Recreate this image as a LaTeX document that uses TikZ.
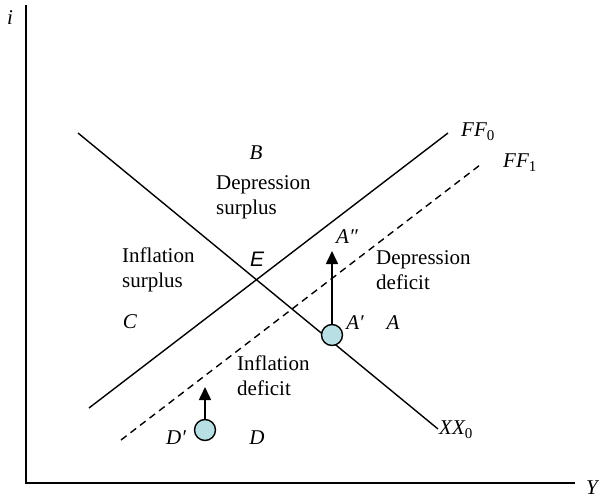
\documentclass[tikz,border=0pt]{standalone}
\usepackage{fontspec}
\setmainfont{Liberation Serif}
\newfontfamily\sansE{Liberation Sans}
\usetikzlibrary{arrows.meta}
\definecolor{dotfill}{RGB}{184,224,228}
\tikzset{
  axisline/.style={line width=2pt},
  curveline/.style={line width=1.4pt},
  dashline/.style={line width=1.4pt, dash pattern=on 7pt off 5pt},
  lbl/.style={font=\fontsize{21}{25}\selectfont, inner sep=0pt},
  ilbl/.style={font=\fontsize{21}{25}\selectfont\itshape, inner sep=0pt},
  region/.style={font=\fontsize{21}{25}\selectfont, inner sep=0pt, align=left, anchor=west},
  dot/.style={circle, draw, line width=1.4pt, fill=dotfill, minimum size=21pt, inner sep=0pt},
  moveup/.style={line width=1.6pt, -{Triangle[width=12pt,length=13pt]}}
}
\newcommand{\subz}[1]{\raisebox{-0.4ex}{\upshape\fontsize{15}{15}\selectfont #1}}
\begin{document}
\begin{tikzpicture}[x=1pt,y=-1pt]
\useasboundingbox (0,0) rectangle (599,500);
% axes
\coordinate (top) at (25.5,5);
\coordinate (origin) at (25.5,483);
\coordinate (right) at (575,483);
\draw[axisline] (top) -- (origin) -- (right);
\node[ilbl] (ilab) at (10,18) {i};
\node[ilbl, anchor=west] (ylab) at (586,488) {Y};
% XX0
\coordinate (xxa) at (78,133);
\coordinate (xxb) at (438,429);
\draw[curveline] (xxa) -- (xxb);
\node[ilbl, anchor=west] (xxlab) at (439,430) {XX\subz{0}};
% FF0
\coordinate (ffa) at (89,408);
\coordinate (ffb) at (448,133);
\draw[curveline] (ffa) -- (ffb);
\node[ilbl, anchor=west] (ff0lab) at (461,132) {FF\subz{0}};
% FF1
\coordinate (fga) at (121,440);
\coordinate (fgb) at (480,165);
\draw[dashline] (fga) -- (fgb);
\node[ilbl, anchor=west] (ff1lab) at (503,163) {FF\subz{1}};
% region labels
\node[ilbl] (B) at (256,153) {B};
\node[region] (depsur) at (216,197) {Depression\\surplus};
\node[region] (infsur) at (122,270) {Inflation\\surplus};
\node[ilbl] (C) at (130,322) {C};
\node[region] (depdef) at (376,270) {Depression\\deficit};
\node[region] (infdef) at (237,376) {Inflation\\deficit};
\node[font=\fontsize{21}{25}\selectfont\sansE\itshape, inner sep=0pt] (E) at (257,259) {E};
\node[ilbl] (A) at (393,323) {A};
\node[ilbl] (D) at (257,438) {D};
% A' point
\node[dot] (Ap) at (332,335) {};
\coordinate (App) at (332,251);
\draw[moveup] (Ap.north) -- (App);
\node[ilbl] (Aplab) at (355,323) {A′};
\node[ilbl] (Applab) at (347,237) {A″};
% D' point
\node[dot] (Dp) at (205,430) {};
\coordinate (Dtip) at (205,387);
\draw[moveup] (Dp.north) -- (Dtip);
\node[ilbl] (Dplab) at (176,438) {D′};
\end{tikzpicture}
\end{document}
